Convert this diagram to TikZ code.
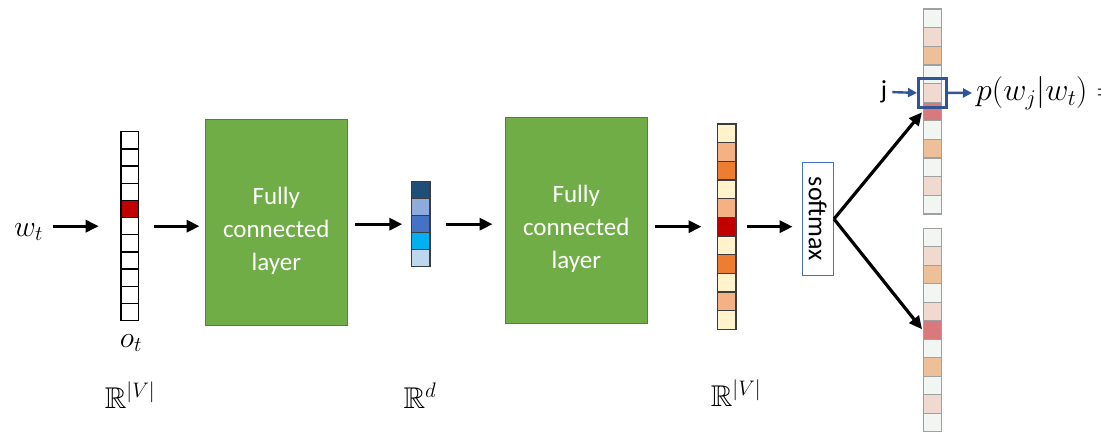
\RequirePackage{fix-cm}
\documentclass[tikz,border=0pt]{standalone}
\usepackage[no-math]{fontspec}
\setmainfont{Carlito}
\usepackage{amsmath,amssymb}
\usetikzlibrary{arrows.meta, positioning, fit, calc}
\definecolor{fcgrn} {RGB}{112,173, 71}
\definecolor{fcdrk} {RGB}{ 84,130, 53}
\definecolor{ohred} {RGB}{192,  0,  0}
\definecolor{emba}  {RGB}{ 31, 78,121}
\definecolor{embb}  {RGB}{143,170,220}
\definecolor{embc}  {RGB}{ 68,114,196}
\definecolor{embd}  {RGB}{  0,176,240}
\definecolor{embe}  {RGB}{189,215,238}
\definecolor{scrm}  {RGB}{255,242,204}
\definecolor{slor}  {RGB}{244,177,131}
\definecolor{sorg}  {RGB}{237,125, 49}
\definecolor{opal}  {RGB}{242,246,243}
\definecolor{opnk}  {RGB}{240,217,207}
\definecolor{oorg}  {RGB}{238,192,154}
\definecolor{ored}  {RGB}{217,121,124}
\definecolor{ogry}  {RGB}{160,160,160}
\definecolor{dgry}  {RGB}{ 60, 60, 60}
\definecolor{smblu} {RGB}{ 68,114,196}
\definecolor{jblu}  {RGB}{ 47, 85,151}
\newcommand{\fctext}{\rule{0pt}{34pt}Fully\\connected\\layer}
\tikzset{
  % Green fully connected block
  FC/.style={rectangle,draw=fcdrk,fill=fcgrn,minimum width=142.7pt,
             minimum height=206pt,text=white,align=center,
             font=\fontsize{25}{33}\selectfont,line width=0.8pt},
  % One cell of a vector
  Cell/.style={rectangle,draw=#1,line width=1.3pt,inner sep=0pt},
  Cell/.default=black,
  % Softmax box
  SM/.style={rectangle,draw=smblu,fill=white,line width=1.4pt,
             minimum width=31pt,minimum height=113.4pt,inner sep=0pt,
             font=\fontsize{26}{30}\selectfont},
  % Math labels
  Lbl/.style={inner sep=1pt,font=\fontsize{30}{36}\selectfont},
  % Arrows
  Arr/.style ={-{Triangle[length=13pt,width=12pt]},line width=3.2pt,color=black},
  BArr/.style={-{Triangle[length=9pt,width=9pt]},line width=2.4pt,color=jblu},
}
\begin{document}
\begin{tikzpicture}[x=1pt,y=-1pt]
  \useasboundingbox (0,0) rectangle (1101,433);
  % one-hot input vector
  \foreach \c [count=\i] in {white,white,white,white,ohred,white,white,white,white,white,white}
    \node[Cell,fill=\c,minimum width=17.3pt,minimum height=17.2pt]
      (oh-\i) at (129.7,{131.7+17.18*(\i-0.5)}) {};
  \node[fit=(oh-1)(oh-11),inner sep=0pt] (oh) {};
  % dense vector
  \foreach \c [count=\i] in {emba,embb,embc,embd,embe}
    \node[Cell=dgry,fill=\c,minimum width=18.3pt,minimum height=17pt]
      (em-\i) at (420.8,{181.7+17*(\i-0.5)}) {};
  \node[fit=(em-1)(em-5),inner sep=0pt] (em) {};
  % score vector
  \foreach \c [count=\i] in {scrm,slor,sorg,scrm,slor,ohred,scrm,sorg,scrm,slor,scrm}
    \node[Cell=dgry,fill=\c,minimum width=18.7pt,minimum height=18.67pt]
      (sc-\i) at (726.7,{124+18.67*(\i-0.5)}) {};
  \node[fit=(sc-1)(sc-11),inner sep=0pt] (sc) {};
  % output vectors
  \foreach \c [count=\i] in {opal,opnk,oorg,opal,opnk,ored,opal,oorg,opal,opnk,opal}{
    \node[Cell=ogry,fill=\c,minimum width=18.4pt,minimum height=18.64pt]
      (oA-\i) at (932.5,{9+18.64*(\i-0.5)}) {};
    \node[Cell=ogry,fill=\c,minimum width=18.4pt,minimum height=18.5pt]
      (oB-\i) at (932.5,{228.3+18.5*(\i-0.5)}) {};
  }
  \node[draw=jblu,line width=3pt,fit=(oA-5),inner sep=4.2pt] (jbox) {};

  \node[FC] (fc1) at (276.3,222.5) {\fctext};
  \node[FC] (fc2) at (576.3,220.3) {\fctext};
  \node[SM] (smax) at (817.8,219) {\rotatebox{-90}{softmax}};

  \node[Lbl] (wt) at (28.5,232) {$w_t$};
  \node[Lbl] (ot) at (131,343) {$o_t$};
  \node[Lbl] (rV1) at (130,395) {$\mathbb{R}^{|V|}$};
  \node[Lbl] (rd)  at (420,396) {$\mathbb{R}^{d}$};
  \node[Lbl] (rV2) at (736,393) {$\mathbb{R}^{|V|}$};
  \node[inner sep=1pt,font=\fontsize{26}{30}\selectfont] (jl) at (884,92) {j};
  \node[Lbl,anchor=west,font=\fontsize{32}{38}\selectfont] (prob) at (975,93) {$p(w_j|w_t) =$};

  \draw[Arr,shorten <=8.5pt,shorten >=21.5pt] (wt.east |- oh) -- (oh.west);
  \draw[Arr,shorten <=14.5pt,shorten >=5pt] (oh.east) -- (oh.east -| fc1.west);
  \draw[Arr,shorten <=7.3pt,shorten >=8.5pt] (fc1.east |- em) -- (em.west);
  \draw[Arr,shorten <=15pt,shorten >=12pt] (em.east) -- (em.east -| fc2.west);
  \draw[Arr,shorten <=7.3pt,shorten >=15pt] (fc2.east |- sc) -- (sc.west);
  \draw[Arr,shorten <=10.5pt,shorten >=9pt] (sc.east) -- (sc.east -| smax.west);
  \draw[Arr,shorten >=1pt] (smax.east) -- (oA-6.west);
  \draw[Arr,shorten >=1pt] (smax.east) -- (oB-6.west);
  \draw[BArr,shorten <=4pt] (jl.east) -- (jbox.west);
  \draw[BArr,shorten >=3pt] (jbox.east) -- (prob.west);
\end{tikzpicture}
\end{document}
